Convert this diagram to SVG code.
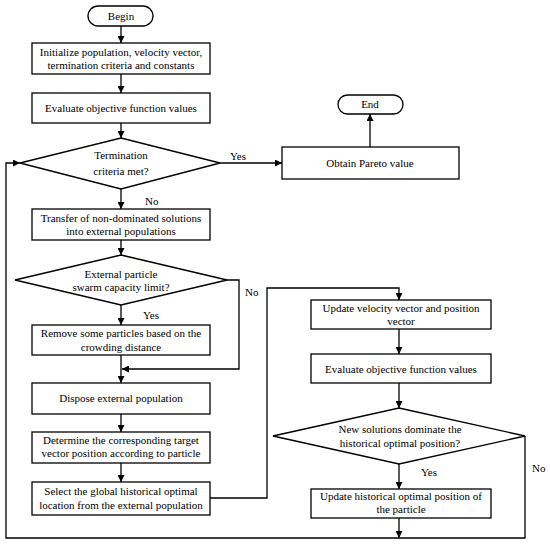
<svg xmlns="http://www.w3.org/2000/svg" width="550" height="544" viewBox="0 0 550 544">
<style>
.s{fill:#fff;stroke:#000;stroke-width:1.3}
.c{fill:none;stroke:#000;stroke-width:1.3}
text{font-family:"Liberation Serif","Times New Roman",serif;font-size:11px;fill:#000;text-anchor:middle}
.l{text-anchor:start}
</style>
<defs>
<marker id="a" viewBox="0 0 10 10" refX="10" refY="5" markerWidth="7" markerHeight="7" markerUnits="userSpaceOnUse" orient="auto"><path d="M0,0L10,5L0,10z" fill="#000"/></marker>
</defs>
<rect width="550" height="544" fill="#fff"/>
<g id="connectors">
<path class="c" d="M121,26V43" marker-end="url(#a)"/>
<path class="c" d="M121,74V93" marker-end="url(#a)"/>
<path class="c" d="M121,123V138" marker-end="url(#a)"/>
<path class="c" d="M220,163H282" marker-end="url(#a)"/>
<path class="c" d="M370,147V114" marker-end="url(#a)"/>
<path class="c" d="M121,189V209" marker-end="url(#a)"/>
<path class="c" d="M121,240V255" marker-end="url(#a)"/>
<path class="c" d="M121,305V325" marker-end="url(#a)"/>
<path class="c" d="M227,280H239V369H122" marker-end="url(#a)"/>
<path class="c" d="M121,355V383" marker-end="url(#a)"/>
<path class="c" d="M121,414V432" marker-end="url(#a)"/>
<path class="c" d="M121,463V482" marker-end="url(#a)"/>
<path class="c" d="M210,498H267V288H399V300" marker-end="url(#a)"/>
<path class="c" d="M399,329V354" marker-end="url(#a)"/>
<path class="c" d="M399,383V408" marker-end="url(#a)"/>
<path class="c" d="M399,464V489" marker-end="url(#a)"/>
<path class="c" d="M399,518V538" marker-end="url(#a)"/>
<path class="c" d="M525,436V538H6V163H20" marker-end="url(#a)"/>
<text x="230" y="160" class="l">Yes</text>
<text x="145" y="205" class="l">No</text>
<text x="245" y="296" class="l">No</text>
<text x="143" y="319" class="l">Yes</text>
<text x="421" y="476" class="l">Yes</text>
<text x="532" y="472" class="l">No</text>
</g>
<g id="begin"><rect class="s" x="88" y="6" width="65" height="20" rx="10"/><text x="121" y="20">Begin</text></g>
<g id="init"><rect class="s" x="32" y="43" width="178" height="31"/><text x="121" y="56">Initialize population, velocity vector,</text><text x="121" y="69">termination criteria and constants</text></g>
<g id="eval1"><rect class="s" x="32" y="93" width="178" height="30"/><text x="121" y="112">Evaluate objective function values</text></g>
<g id="term"><polygon class="s" points="121,138 220,163 121,189 20,163"/><text x="121" y="159">Termination</text><text x="121" y="175">criteria met?</text></g>
<g id="pareto"><rect class="s" x="282" y="147" width="177" height="32"/><text x="370" y="167">Obtain Pareto value</text></g>
<g id="end"><rect class="s" x="338" y="95" width="65" height="19" rx="9.5"/><text x="370" y="108">End</text></g>
<g id="transfer"><rect class="s" x="32" y="209" width="178" height="31"/><text x="121" y="222">Transfer of non-dominated solutions</text><text x="121" y="235">into external populations</text></g>
<g id="capacity"><polygon class="s" points="121,255 227,280 121,305 15,280"/><text x="121" y="278">External particle</text><text x="121" y="291">swarm capacity limit?</text></g>
<g id="remove"><rect class="s" x="32" y="325" width="178" height="30"/><text x="121" y="337">Remove some particles based on the</text><text x="121" y="351">crowding distance</text></g>
<g id="dispose"><rect class="s" x="32" y="383" width="178" height="31"/><text x="121" y="402">Dispose external population</text></g>
<g id="determine"><rect class="s" x="32" y="432" width="178" height="31"/><text x="121" y="444">Determine the corresponding target</text><text x="121" y="457">vector position according to particle</text></g>
<g id="select"><rect class="s" x="32" y="482" width="178" height="33"/><text x="121" y="495">Select the global historical optimal</text><text x="121" y="509">location from the external population</text></g>
<g id="updatevel"><rect class="s" x="311" y="300" width="180" height="29"/><text x="401" y="312">Update velocity vector and position</text><text x="401" y="325">vector</text></g>
<g id="eval2"><rect class="s" x="311" y="354" width="180" height="29"/><text x="401" y="373">Evaluate objective function values</text></g>
<g id="dominate"><polygon class="s" points="399,408 525,436 399,464 273,436"/><text x="400" y="433">New solutions dominate the</text><text x="400" y="447">historical optimal position?</text></g>
<g id="updatehist"><rect class="s" x="311" y="489" width="180" height="29"/><text x="401" y="500">Update historical optimal position of</text><text x="401" y="513">the particle</text></g>
</svg>
